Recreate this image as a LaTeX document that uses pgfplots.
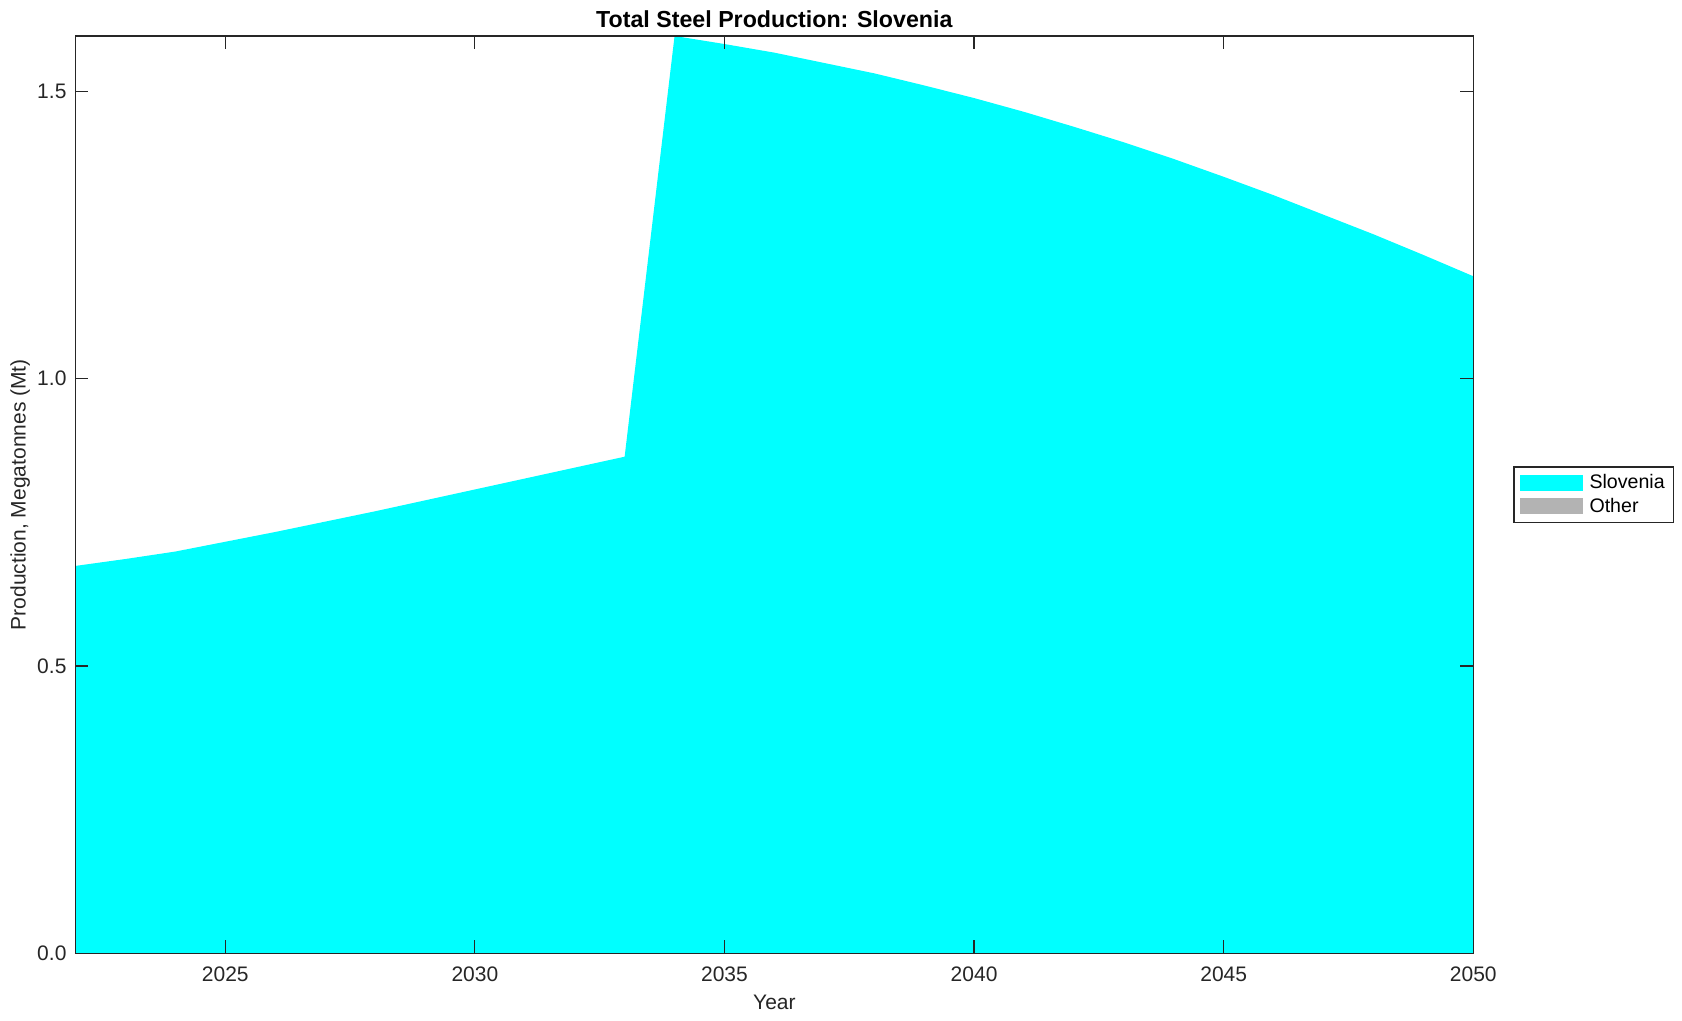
\documentclass[border=0pt]{standalone}
\usepackage{fontspec}
\setmainfont{Liberation Sans}
\usepackage{pgfplots}
\pgfplotsset{compat=1.18}

\definecolor{axgray}{RGB}{38,38,38}
\definecolor{slocyan}{RGB}{0,255,255}
\definecolor{othergray}{RGB}{179,179,179}

\begin{document}
\begin{tikzpicture}
% page frame (reference proportions 1682x1021)
\path (-37.75pt,-33.85pt) rectangle (803.25pt,476.65pt);
\begin{axis}[
    at={(0,0)}, anchor=south west,
    scale only axis,
    width=698.9pt, height=458.65pt,
    xmin=2022, xmax=2050,
    ymin=0, ymax=1.596,
    xtick={2025,2030,2035,2040,2045,2050},
    ytick={0,0.5,1,1.5},
    x tick label style={/pgf/number format/1000 sep={}, yshift=-3pt},
    y tick label style={/pgf/number format/.cd, fixed, fixed zerofill, precision=1, /tikz/.cd, xshift=-1pt},
    /pgf/number format/assume math mode=true,
    tick align=inside,
    major tick length=6.5pt,
    tick style={axgray, line width=0.6pt},
    axis line style={axgray, line width=0.6pt},
    ticklabel style={font=\fontsize{10.5}{12}\selectfont, text=axgray},
    axis on top,
    every axis title shift=0pt,
    title={\textbf{Total Steel Production: Slovenia}},
    title style={font=\fontsize{11.6}{13}\selectfont, at={(axis description cs:0.5,1)}, anchor=base, yshift=4.1pt},
    xlabel={Year},
    xlabel style={font=\fontsize{10.5}{12}\selectfont, text=axgray, at={(axis description cs:0.5,0)}, anchor=base, yshift=-28.2pt},
    ylabel={Production, Megatonnes (Mt)},
    ylabel style={font=\fontsize{10.5}{12}\selectfont, text=axgray, at={(axis description cs:-0.0395,0.5)}, anchor=center},
    legend image code/.code={\fill[#1] (0pt,-4pt) rectangle (31.5pt,4pt); \path (33.2pt,0pt);},
    legend style={at={(axis description cs:1,0.5)}, anchor=west, xshift=20pt,
        draw=axgray, line width=0.6pt,
        font=\fontsize{9.8}{11}\selectfont,
        inner xsep=3pt, inner ysep=2pt, row sep=0pt,
        nodes={inner sep=1.6pt}},
    legend cell align=left,
]
\addplot[fill=slocyan, draw=none] coordinates {
    (2022,0.674) (2023,0.686) (2024,0.699) (2025,0.716) (2026,0.733)
    (2027,0.751) (2028,0.769) (2029,0.788) (2030,0.807) (2031,0.826)
    (2032,0.845) (2033,0.864) (2034,1.596) (2035,1.582) (2036,1.567)
    (2037,1.549) (2038,1.531) (2039,1.510) (2040,1.488) (2041,1.464)
    (2042,1.438) (2043,1.411) (2044,1.382) (2045,1.351) (2046,1.319)
    (2047,1.285) (2048,1.251) (2049,1.215) (2050,1.178)
} \closedcycle;
\addlegendentry{Slovenia}
\addlegendimage{fill=othergray, draw=none}
\addlegendentry{Other}
\end{axis}
\end{tikzpicture}
\end{document}
